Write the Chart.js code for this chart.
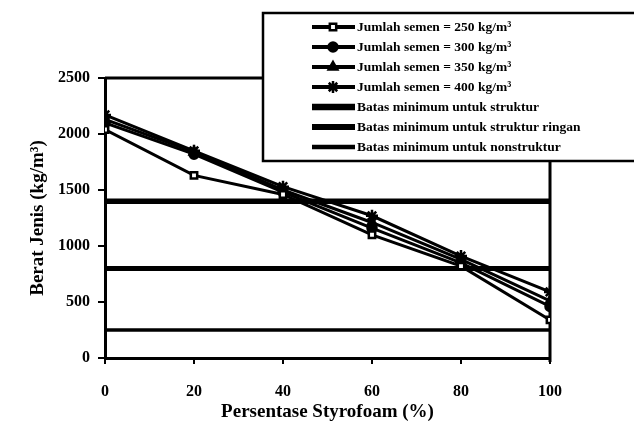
<!DOCTYPE html>
<html>
<head>
<meta charset="utf-8">
<script src="https://cdn.jsdelivr.net/npm/chart.js@4/dist/chart.umd.min.js"></script>
<style>
    html, body { margin: 0; padding: 0; background: #fff; }
    #wrap { width: 634px; height: 424px; }
</style>
</head>
<body>
<div id="wrap"><canvas id="beratChart" width="634" height="424"></canvas></div>
<script>
/* global Chart */

// persentase styrofoam (%)
const persen = [0, 20, 40, 60, 80, 100];

// berat jenis (kg/m3) per jumlah semen
const semen250 = [2040, 1630, 1460, 1100, 820, 340];
const semen300 = [2100, 1820, 1480, 1160, 850, 460];
const semen350 = [2130, 1840, 1500, 1210, 880, 510];
const semen400 = [2170, 1850, 1530, 1270, 910, 590];

// batas minimum, dari 0 sampai 100 %
const batasPersen = [0, 100];
const batasStruktur = [1400, 1400];
const batasRingan = [800, 800];
const batasNonstruktur = [250, 250];

const yTicks = [0, 500, 1000, 1500, 2000, 2500];
const xTicks = [0, 20, 40, 60, 80, 100];

const fontFamily = "'Liberation Serif', 'Times New Roman', serif";

function toPoints(xs, ys)
{
    return xs.map((x, i) => ({ x: x, y: ys[i] }));
}

function seriesSet(label, values, style, bg, radius)
{
    return {
        label: label,
        data: toPoints(persen, values),
        borderColor: "#000",
        backgroundColor: bg,
        borderWidth: 3,
        pointStyle: style,
        pointRadius: radius,
        pointBorderWidth: 2.5,
        pointBorderColor: "#000",
        pointBackgroundColor: bg,
        tension: 0
    };
}

function batasSet(label, values, width)
{
    return {
        label: label,
        data: toPoints(batasPersen, values),
        borderColor: "#000",
        borderWidth: width,
        pointRadius: 0,
        tension: 0
    };
}

const datasets = [
    seriesSet("Jumlah semen = 250 kg/m³", semen250, "rect", "#fff", 4.5),
    seriesSet("Jumlah semen = 300 kg/m³", semen300, "circle", "#000", 4.5),
    seriesSet("Jumlah semen = 350 kg/m³", semen350, "triangle", "#000", 5),
    seriesSet("Jumlah semen = 400 kg/m³", semen400, "star", "#000", 6),
    batasSet("Batas minimum untuk struktur", batasStruktur, 5.5),
    batasSet("Batas minimum untuk struktur ringan", batasRingan, 5),
    batasSet("Batas minimum untuk nonstruktur", batasNonstruktur, 3.5)
];

// frame of plot area (top and right side)
const framePlugin = {
    id: "frame",
    beforeDatasetsDraw(chart)
    {
        const a = chart.chartArea;
        const ctx = chart.ctx;
        ctx.save();
        ctx.strokeStyle = "#000";
        ctx.lineWidth = 3;
        ctx.beginPath();
        ctx.moveTo(a.left, a.top);
        ctx.lineTo(a.right, a.top);
        ctx.lineTo(a.right, a.bottom + 4);
        ctx.stroke();
        ctx.restore();
    }
};

// boxed legend drawn over the top right corner
const boxLegendPlugin = {
    id: "boxLegend",
    afterDraw(chart)
    {
        const ctx = chart.ctx;
        const left = 263, top = 13, bottom = 161;
        ctx.save();
        ctx.fillStyle = "#fff";
        ctx.fillRect(left, top, 400, bottom - top);
        ctx.strokeStyle = "#000";
        ctx.lineWidth = 2.5;
        ctx.strokeRect(left, top, 400, bottom - top);

        ctx.font = "bold 13.5px " + fontFamily;
        ctx.textBaseline = "middle";
        ctx.textAlign = "left";

        chart.data.datasets.forEach((ds, i) => {
            const y = 27 + i * 20;
            ctx.strokeStyle = "#000";
            ctx.lineWidth = ds.borderWidth + 1;
            ctx.beginPath();
            ctx.moveTo(312, y);
            ctx.lineTo(355, y);
            ctx.stroke();
            if (ds.pointRadius)
            {
                ctx.fillStyle = ds.pointBackgroundColor;
                ctx.strokeStyle = "#000";
                ctx.lineWidth = 2.5;
                Chart.helpers.drawPoint(ctx, {
                    pointStyle: ds.pointStyle,
                    rotation: 0,
                    radius: ds.pointRadius,
                    borderWidth: 2.5
                }, 333, y);
            }
            ctx.fillStyle = "#000";
            ctx.fillText(ds.label, 357, y + 1);
        });
        ctx.restore();
    }
};

new Chart(
    document.getElementById("beratChart"),
    {
        type: "line",
        data: { datasets: datasets },
        plugins: [framePlugin, boxLegendPlugin],
        options: {
            responsive: false,
            animation: false,
            layout: { padding: { top: 78, right: 84, left: 0, bottom: 0 } },
            plugins: {
                legend: { display: false },
                tooltip: { enabled: false }
            },
            scales: {
                x: {
                    type: "linear",
                    min: 0,
                    max: 100,
                    afterFit: s => { s.height = 66; },
                    afterBuildTicks: s => { s.ticks = xTicks.map(v => ({ value: v })); },
                    grid: {
                        drawOnChartArea: false,
                        drawTicks: true,
                        tickLength: 6,
                        color: "#000",
                        lineWidth: 2
                    },
                    border: { color: "#000", width: 3 },
                    ticks: {
                        color: "#000",
                        padding: 18,
                        maxRotation: 0,
                        callback: v => String(v),
                        font: { family: fontFamily, size: 16, weight: "bold" }
                    },
                    title: {
                        display: true,
                        text: "Persentase Styrofoam (%)",
                        color: "#000",
                        padding: { top: 0, bottom: 1 },
                        font: { family: fontFamily, size: 19, weight: "bold" }
                    }
                },
                y: {
                    min: 0,
                    max: 2500,
                    afterFit: s => { s.width = 105; },
                    afterBuildTicks: s => { s.ticks = yTicks.map(v => ({ value: v })); },
                    grid: {
                        drawOnChartArea: false,
                        drawTicks: true,
                        tickLength: 7,
                        color: "#000",
                        lineWidth: 2
                    },
                    border: { color: "#000", width: 3 },
                    ticks: {
                        color: "#000",
                        padding: 8,
                        callback: v => String(v),
                        font: { family: fontFamily, size: 16, weight: "bold" }
                    },
                    title: {
                        display: true,
                        text: "Berat Jenis (kg/m³)",
                        color: "#000",
                        padding: { top: 27, bottom: 0 },
                        font: { family: fontFamily, size: 19, weight: "bold" }
                    }
                }
            }
        }
    }
);
</script>
</body>
</html>
